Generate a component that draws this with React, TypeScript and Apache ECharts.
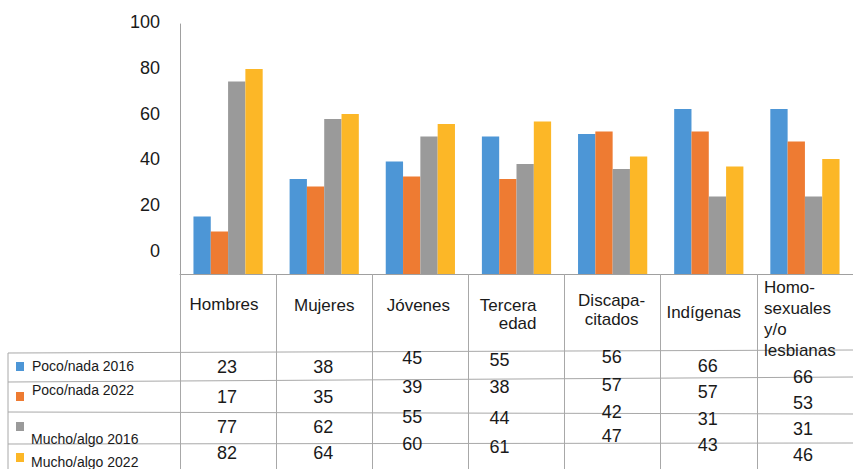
import React, { useEffect, useRef } from "react";
import * as echarts from "echarts";

const categories = ["Hombres", "Mujeres", "Jóvenes", "Tercera\nedad", "Discapa-\ncitados", "Indígenas", "Homo-\nsexuales\ny/o\nlesbianas"];
const seriesNames = ["Poco/nada 2016", "Poco/nada 2022", "Mucho/algo 2016", "Mucho/algo 2022"];
const poco2016 = [23, 38, 45, 55, 56, 66, 66];
const poco2022 = [17, 35, 39, 38, 57, 57, 53];
const mucho2016 = [77, 62, 55, 44, 42, 31, 31];
const mucho2022 = [82, 64, 60, 61, 47, 43, 46];

const colors = ["#4d96d6", "#ee7b32", "#9a9a9a", "#fcb727"];

// layout of the hand-placed table texts (positions only)
const labelLayout = [
  { dx: -4, y: 304, align: "center", lh: 18 },
  { dx: 0, y: 305, align: "center", lh: 18 },
  { dx: -2, y: 305, align: "center", lh: 18 },
  { dx: 20, y: 314, align: "right", lh: 18 },
  { dx: -1, y: 310, align: "center", lh: 19 },
  { dx: -5, y: 312, align: "center", lh: 18 },
  { dx: -41, y: 319, align: "left", lh: 21 },
];
const cellDx = [-1, -1, -8, -17, -1, -1, -2];
const cellY = [
  [367, 397, 427, 453],
  [367, 397, 427, 453],
  [358, 387, 417, 444],
  [360, 387, 418, 447],
  [357, 385, 412, 436],
  [366, 392, 419, 445],
  [377, 403, 429, 455],
];
const legendRows = [
  { sq: 367, tx: 32, ty: 366 },
  { sq: 397, tx: 32, ty: 390 },
  { sq: 427, tx: 31, ty: 439 },
  { sq: 458, tx: 31, ty: 462 },
];
const rowLines = [
  [353, 350],
  [382, 377],
  [412, 414],
  [444, 443],
];

const FONT = "Liberation Sans, Arial, sans-serif";

export default function App() {
  const ref = useRef<HTMLDivElement>(null);
  useEffect(() => {
    const chart = echarts.init(ref.current as HTMLDivElement, null, { renderer: "svg" });
    const values = [poco2016, poco2022, mucho2016, mucho2022];
    const option: any = {
      animation: false,
      backgroundColor: "#ffffff",
      grid: [
        { left: 180, right: -11, top: 24, bottom: 195 },
        { left: 180, right: -11, top: 22, bottom: 218 },
      ],
      xAxis: [
        {
          type: "category",
          gridIndex: 0,
          data: categories,
          axisLine: { lineStyle: { color: "#a0a0a0", width: 1 } },
          axisTick: { show: true, length: 195, lineStyle: { color: "#a8a8a8" } },
          axisLabel: { show: false },
        },
        { type: "category", gridIndex: 1, data: categories, show: false },
      ],
      yAxis: [
        {
          type: "value",
          gridIndex: 0,
          min: 0,
          max: 100,
          axisLine: { show: true, lineStyle: { color: "#a0a0a0" } },
          axisTick: { show: false },
          axisLabel: { show: false },
          splitLine: { show: false },
        },
        {
          type: "value",
          gridIndex: 1,
          min: 0,
          max: 100,
          interval: 20,
          axisLine: { show: false },
          axisTick: { show: false },
          splitLine: { show: false },
          axisLabel: { margin: 20, fontSize: 18, color: "#1a1a1a", fontFamily: FONT },
        },
      ],
      series: values.map((d, i) => ({
        type: "bar",
        name: seriesNames[i],
        xAxisIndex: 0,
        yAxisIndex: 0,
        data: d,
        barGap: "0%",
        barCategoryGap: "28%",
        itemStyle: { color: colors[i] },
      })),
    };
    chart.setOption(option);

    const graphic: any[] = [];
    rowLines.forEach(([y1, y2]) => {
      graphic.push({ type: "line", shape: { x1: 8, y1, x2: 853, y2 }, style: { stroke: "#a8a8a8", lineWidth: 1 }, silent: true });
    });
    graphic.push({ type: "line", shape: { x1: 8, y1: 353, x2: 8, y2: 469 }, style: { stroke: "#a8a8a8", lineWidth: 1 }, silent: true });

    categories.forEach((c, i) => {
      const cx = chart.convertToPixel({ xAxisIndex: 0 }, c) as number;
      const L = labelLayout[i];
      graphic.push({
        type: "text",
        x: cx + L.dx,
        y: L.y,
        style: { text: c, font: `17px ${FONT}`, fill: "#1a1a1a", align: L.align, verticalAlign: "middle", lineHeight: L.lh },
      });
      values.forEach((d, r) => {
        graphic.push({
          type: "text",
          x: cx + cellDx[i],
          y: cellY[i][r],
          style: { text: String(d[i]), font: `18px ${FONT}`, fill: "#1a1a1a", align: "center", verticalAlign: "middle" },
        });
      });
    });

    seriesNames.forEach((n, r) => {
      const L = legendRows[r];
      graphic.push({ type: "rect", shape: { x: 16, y: L.sq - 5, width: 8, height: 9 }, style: { fill: colors[r] } });
      graphic.push({
        type: "text",
        x: L.tx,
        y: L.ty,
        style: { text: n, font: `14px ${FONT}`, fill: "#1a1a1a", align: "left", verticalAlign: "middle" },
      });
    });

    chart.setOption({ graphic });
    return () => chart.dispose();
  }, []);
  return <div ref={ref} style={{ position: "fixed", left: 0, top: 0, width: 853, height: 469 }} />;
}
